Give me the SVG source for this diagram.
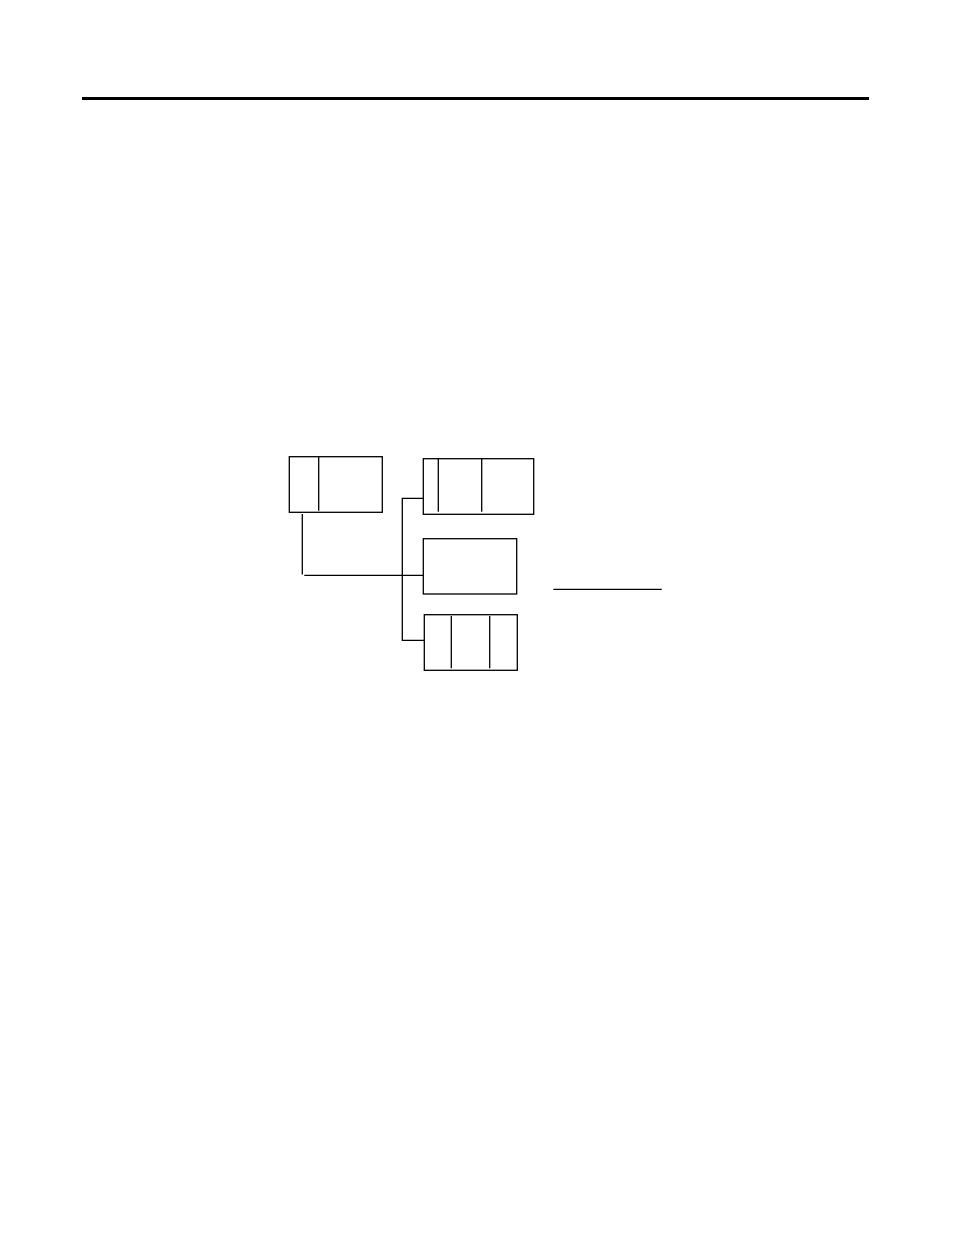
<svg xmlns="http://www.w3.org/2000/svg" width="954" height="1235" viewBox="0 0 954 1235">
<style>
.b{fill:none;stroke:#000;stroke-width:1.3}
.l{fill:none;stroke:#000;stroke-width:1.3}
</style>
<rect width="954" height="1235" fill="#fff"/>
<line x1="82" y1="98.5" x2="869" y2="98.5" stroke="#000" stroke-width="3.2"/>
<g id="connectors">
<line class="l" x1="302.3" y1="514" x2="302.3" y2="574.5"/>
<line class="l" x1="304.3" y1="575.3" x2="423.3" y2="575.3"/>
<polyline class="l" points="423.3,498.3 402.3,498.3 402.3,640.3 424.3,640.3"/>
</g>
<g id="node1">
<rect class="b" x="289.3" y="456.7" width="93" height="55.6"/>
<line class="l" x1="318.7" y1="456.7" x2="318.7" y2="510.7"/>
</g>
<g id="node2">
<rect class="b" x="423.3" y="458.7" width="110.4" height="55.6"/>
<line class="l" x1="438.3" y1="458.7" x2="438.3" y2="511.7"/>
<line class="l" x1="481.7" y1="458.7" x2="481.7" y2="511.7"/>
</g>
<g id="node3">
<rect class="b" x="423.3" y="538.7" width="93.4" height="55.3"/>
</g>
<g id="node4">
<rect class="b" x="424.3" y="614.7" width="93" height="55.6"/>
<line class="l" x1="451.3" y1="616" x2="451.3" y2="668.3"/>
<line class="l" x1="489.7" y1="616" x2="489.7" y2="668.3"/>
</g>
<line class="l" x1="553.3" y1="589.3" x2="661.7" y2="589.3"/>
</svg>
